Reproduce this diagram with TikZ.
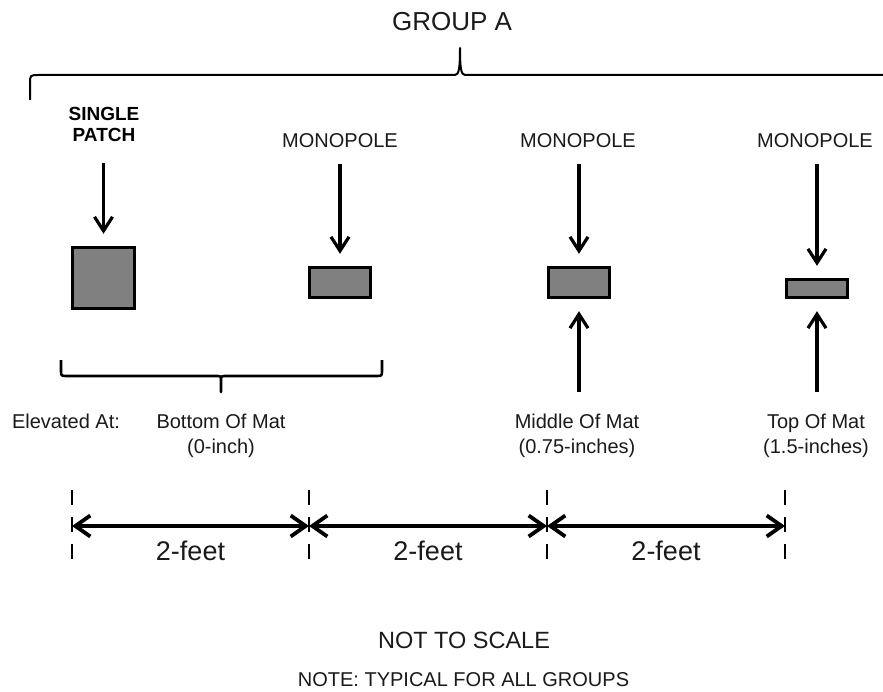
\documentclass[tikz,border=0pt]{standalone}
\usepackage{fontspec}
\setmainfont{Liberation Sans}
\usetikzlibrary{calc,positioning,arrows.meta}
\definecolor{patchgray}{RGB}{128,128,128}
\definecolor{inkgray}{RGB}{26,26,26}
\newlength{\feedgap}
\setlength{\feedgap}{12pt}
\tikzset{
  ant/.style={
    draw=black,
    line width=3.4pt,
    fill=patchgray,
    inner sep=0pt
  },
  lbl/.style={font=\fontsize{20}{25}\selectfont, text=inkgray, inner sep=0pt, align=center},
  hdr/.style={font=\fontsize{19}{21}\selectfont\bfseries, text=black, inner sep=0pt, align=center},
  ttl/.style={font=\fontsize{26}{30}\selectfont, text=inkgray, inner sep=0pt},
  feed/.style={line width=3.2pt, -{Straight Barb[length=14pt,width=18pt,line width=3.2pt]}, shorten >=\feedgap},
  dim/.style={line width=4.2pt, {Straight Barb[length=15pt,width=21pt,line width=3.8pt]}-{Straight Barb[length=15pt,width=21pt,line width=3.8pt]}},
  tickln/.style={line width=2.4pt, dash pattern=on 15pt off 12pt},
  brc/.style={line width=2pt, line join=round},
  feet/.style={font=\fontsize{27}{30}\selectfont, text=inkgray, inner sep=0pt},
}

\begin{document}
\begin{tikzpicture}[x=1pt,y=-1pt]
  \useasboundingbox[fill=white] (0,0) rectangle (883,692);
  % group header and its brace
  \node[ttl] (grp) at (452,22) {GROUP A};
  \draw[brc] (30,100) -- (30,84) .. controls (30,75) .. (39,75) -- (455,75)
    .. controls (459,75) and (460,68) .. (460,48)
    .. controls (460,68) and (461,75) .. (465,75) -- (883,75);

  % antennas
  \node[ant, minimum width=62pt, minimum height=61pt] (patch) at (103.5,278) {};
  \foreach \nm/\x/\h/\cy in {monoA/340/30/282.5,monoB/579/30/282.5,monoC/817/18/288.5}
    \node[ant, minimum width=61pt, minimum height=\h pt] (\nm) at (\x,\cy) {};

  \node[hdr] (patchlbl) at (104,124) {SINGLE\\PATCH};
  \draw[feed, shorten <=22pt] (patch.north |- patchlbl.south) -- (patch.north);
  \foreach \nm/\x in {monoA/340,monoB/578,monoC/815} {
    \node[lbl] (\nm lbl) at (\x,141) {MONOPOLE};
    \draw[feed, shorten <=16pt] (\nm.north |- \nm lbl.south) -- (\nm.north);
  }

  % elevation labels
  \node[lbl, anchor=north] (elev) at (66,414) {Elevated At:};
  \node[lbl, anchor=north] (botlbl) at (221,414) {Bottom Of Mat\\(0-inch)};
  \node[lbl, anchor=north] (midlbl) at (577,414) {Middle Of Mat\\(0.75-inches)};
  \node[lbl, anchor=north] (toplbl) at (816,414) {Top Of Mat\\(1.5-inches)};
  \draw[line width=2.6pt, line join=round] (61,360) -- (61,370) .. controls (61,376) .. (67,376)
    -- (216,376) .. controls (221,376) .. (221,381) -- (221,392) -- (221,381)
    .. controls (221,376) .. (226,376) -- (376,376) .. controls (382,376) .. (382,370) -- (382,360);
  \draw[feed, shorten <=22pt] (monoB.south |- midlbl.north) -- (monoB.south);
  \draw[feed, shorten <=22pt] (monoC.south |- toplbl.north) -- (monoC.south);

  % spacing
  \foreach \x [count=\i] in {72,309,547,785} {
    \coordinate (tk\i) at (\x,526);
    \draw[tickln] (\x,490) -- (\x,559);
  }
  \foreach \a/\b in {1/2,2/3,3/4}
    \draw[dim] (tk\a) -- node[feet, midway, yshift=-25pt] (sp\a) {2-feet} (tk\b);

  \node[lbl, font=\fontsize{23.5}{26}\selectfont] (nts) at (464,640) {NOT TO SCALE};
  \node[lbl, font=\fontsize{20}{22}\selectfont] (note) at (463.5,680) {NOTE: TYPICAL FOR ALL GROUPS};
\end{tikzpicture}
\end{document}
